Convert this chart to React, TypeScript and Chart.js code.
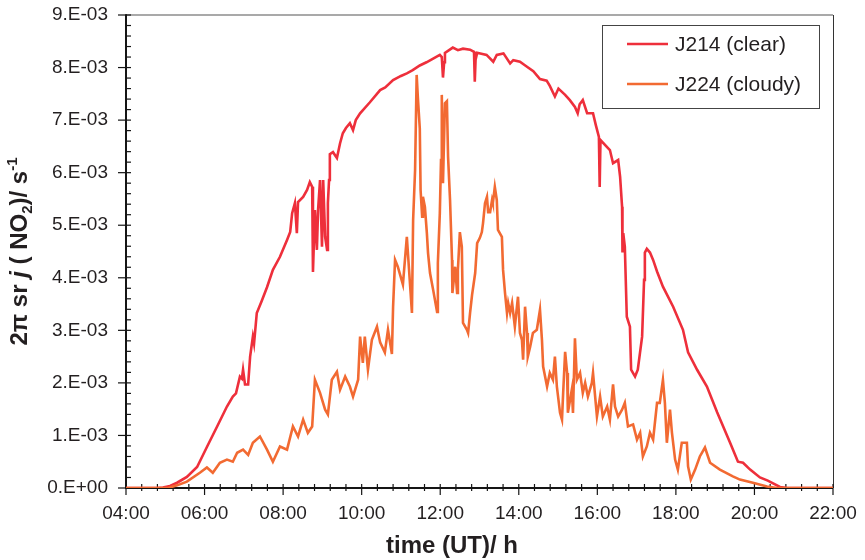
import React, { useEffect, useRef } from "react";
import { Chart, registerables } from "chart.js";

Chart.register(...registerables);

// time in hours UT
const clearTime = [
  4.0, 4.79, 4.94, 5.12, 5.3, 5.55, 5.81, 6.06, 6.32, 6.57, 6.72, 6.8, 6.9, 6.95, 6.98, 7.03, 7.11, 7.16, 7.23, 7.26,
  7.33, 7.45, 7.59, 7.74, 7.92, 8.1, 8.18, 8.23, 8.3, 8.35, 8.38, 8.51, 8.61, 8.68, 8.74, 8.76, 8.81, 8.86, 8.89, 8.94,
  8.99, 9.02, 9.07, 9.12, 9.14, 9.17, 9.19, 9.27, 9.37, 9.45, 9.52, 9.6, 9.7, 9.78, 9.85, 9.96, 10.21, 10.47, 10.6, 10.8,
  11.0, 11.15, 11.3, 11.48, 11.65, 11.82, 11.99, 12.04, 12.07, 12.1, 12.12, 12.32, 12.45, 12.58, 12.76, 12.86, 12.88, 12.9, 12.94, 13.18,
  13.35, 13.44, 13.61, 13.78, 13.86, 14.03, 14.2, 14.37, 14.54, 14.71, 14.79, 14.92, 15.01, 15.18, 15.3, 15.43, 15.5, 15.55, 15.63, 15.74,
  15.89, 15.96, 16.04, 16.06, 16.08, 16.32, 16.4, 16.53, 16.58, 16.63, 16.64, 16.66, 16.7, 16.75, 16.83, 16.86, 16.96, 17.03, 17.14, 17.19,
  17.21, 17.26, 17.34, 17.42, 17.52, 17.67, 17.93, 18.18, 18.31, 18.54, 18.79, 19.05, 19.38, 19.58, 19.71, 19.89, 20.14, 20.34, 20.65, 20.83,
  22.0,
];
// J214 (clear), units of 1E-03 s^-1
const clearJ = [
  0, 0, 0.01, 0.04, 0.1, 0.21, 0.4, 0.78, 1.17, 1.55, 1.74, 1.8, 2.12, 2.08, 2.25, 1.97, 1.97, 2.5, 2.88, 2.75,
  3.33, 3.55, 3.82, 4.15, 4.4, 4.72, 4.87, 5.23, 5.42, 4.85, 5.44, 5.54, 5.67, 5.82, 5.73, 4.11, 5.29, 4.53, 5.29, 5.86,
  4.59, 5.86, 4.78, 4.53, 5.42, 5.86, 6.35, 6.39, 6.28, 6.56, 6.75, 6.85, 6.94, 6.81, 7.0, 7.13, 7.34, 7.57, 7.62, 7.76,
  7.84, 7.89, 7.95, 8.04, 8.1, 8.17, 8.24, 8.2, 7.81, 8.1, 8.28, 8.38, 8.33, 8.36, 8.34, 8.3, 7.73, 8.15, 8.28, 8.24,
  8.11, 8.24, 8.27, 8.08, 8.14, 8.11, 8.02, 7.93, 7.78, 7.75, 7.65, 7.45, 7.6, 7.48, 7.38, 7.25, 7.13, 7.3, 7.38, 7.13,
  7.13, 6.91, 6.68, 5.73, 6.62, 6.43, 6.18, 6.24, 5.92, 5.35, 4.48, 4.85, 4.59, 3.26, 3.07, 2.25, 2.12, 2.25, 2.88, 3.96,
  4.48, 4.55, 4.48, 4.34, 4.12, 3.83, 3.45, 3.01, 2.58, 2.25, 1.93, 1.44, 0.86, 0.5, 0.48, 0.35, 0.2, 0.14, 0.02, 0,
  0,
];

const cloudyTime = [
  4.0, 5.07, 5.3, 5.55, 5.88, 6.06, 6.21, 6.39, 6.57, 6.72, 6.83, 6.98, 7.11, 7.23, 7.41, 7.59, 7.74, 7.92, 8.1, 8.25,
  8.38, 8.51, 8.63, 8.74, 8.81, 8.94, 9.07, 9.14, 9.24, 9.37, 9.45, 9.58, 9.7, 9.78, 9.91, 9.96, 10.03, 10.08, 10.16, 10.26,
  10.39, 10.47, 10.59, 10.67, 10.77, 10.8, 10.85, 10.92, 11.05, 11.15, 11.28, 11.31, 11.36, 11.4, 11.43, 11.48, 11.5, 11.54, 11.56, 11.61,
  11.66, 11.69, 11.74, 11.82, 11.92, 11.94, 11.99, 12.02, 12.04, 12.07, 12.12, 12.17, 12.2, 12.25, 12.3, 12.31, 12.38, 12.43, 12.45, 12.5,
  12.55, 12.58, 12.68, 12.71, 12.76, 12.81, 12.83, 12.89, 12.94, 13.01, 13.06, 13.09, 13.14, 13.19, 13.22, 13.27, 13.32, 13.34, 13.39, 13.44,
  13.47, 13.57, 13.6, 13.65, 13.7, 13.73, 13.78, 13.83, 13.9, 13.98, 14.03, 14.08, 14.11, 14.16, 14.21, 14.23, 14.29, 14.36, 14.46, 14.54,
  14.59, 14.62, 14.72, 14.79, 14.87, 14.92, 14.97, 15.05, 15.1, 15.13, 15.18, 15.23, 15.25, 15.35, 15.38, 15.43, 15.48, 15.56, 15.63, 15.69,
  15.76, 15.86, 15.89, 15.99, 16.07, 16.14, 16.25, 16.32, 16.4, 16.45, 16.53, 16.63, 16.7, 16.78, 16.91, 17.01, 17.09, 17.16, 17.26, 17.34,
  17.42, 17.52, 17.59, 17.67, 17.72, 17.77, 17.85, 17.9, 17.98, 18.05, 18.15, 18.28, 18.31, 18.38, 18.49, 18.61, 18.74, 18.87, 19.12, 19.45,
  19.63, 19.96, 20.32, 20.57, 22.0,
];
// J224 (cloudy), units of 1E-03 s^-1
const cloudyJ = [
  0, 0, 0.05, 0.12, 0.29, 0.39, 0.29, 0.48, 0.54, 0.5, 0.67, 0.73, 0.63, 0.86, 0.98, 0.73, 0.5, 0.79, 0.73, 1.17,
  0.98, 1.3, 1.05, 1.17, 2.06, 1.81, 1.49, 1.4, 2.06, 2.21, 1.87, 2.12, 1.93, 1.74, 2.06, 2.88, 2.38, 2.88, 2.25, 2.82,
  3.07, 2.77, 2.58, 3.01, 2.55, 3.45, 4.34, 4.21, 3.87, 4.78, 3.33, 5.1, 6.05, 7.86, 7.44, 6.84, 5.67, 5.16, 5.54, 5.35,
  4.85, 4.47, 4.09, 3.77, 3.35, 4.28, 5.23, 6.24, 7.48, 5.8, 7.32, 7.36, 6.3, 5.48, 4.34, 3.71, 4.21, 3.71, 4.15, 4.87,
  4.59, 3.14, 3.01, 2.95, 3.33, 3.67, 3.67, 4.09, 4.66, 4.76, 4.87, 5.04, 5.42, 5.54, 5.25, 5.25, 5.48, 5.42, 5.73, 5.48,
  4.91, 4.78, 4.15, 3.71, 3.33, 3.52, 3.33, 3.52, 3.07, 3.64, 2.95, 2.82, 2.44, 3.45, 2.95, 2.5, 2.69, 2.95, 3.01, 3.39,
  2.82, 2.31, 1.93, 2.19, 2.06, 2.5, 1.93, 1.43, 1.3, 1.81, 2.59, 2.19, 1.43, 1.87, 1.43, 2.85, 2.06, 2.19, 1.81, 2.0,
  1.74, 2.0, 2.19, 1.36, 1.74, 1.36, 1.55, 1.3, 1.97, 1.55, 1.36, 1.49, 1.62, 1.17, 1.21, 0.92, 1.05, 0.6, 0.79, 1.05,
  0.92, 1.62, 1.62, 2.06, 1.62, 0.86, 1.49, 1.05, 0.54, 0.35, 0.86, 0.86, 0.41, 0.16, 0.35, 0.6, 0.77, 0.48, 0.35, 0.22,
  0.16, 0.1, 0.03, 0, 0,
];

const seriesLabels = ["J214 (clear)", "J224 (cloudy)"];
const seriesColors = ["#ee2f3b", "#f26a32"];

const FONT = "'Liberation Sans', Arial, Helvetica, sans-serif";

function fmtHour(v: number) {
  const h = Math.round(v);
  return (h < 10 ? "0" : "") + h + ":00";
}
function fmtJ(v: number) {
  const r = Math.round(v);
  return r === 0 ? "0.E+00" : r + ".E-03";
}

const framePlugin = {
  id: "framePlugin",
  beforeDatasetsDraw(chart: any) {
    const { ctx, chartArea, scales } = chart;
    const { left, right, top, bottom } = chartArea;
    const x = scales.x;
    const y = scales.y;
    const line = (x1: number, y1: number, x2: number, y2: number) => {
      ctx.beginPath();
      ctx.moveTo(x1, y1);
      ctx.lineTo(x2, y2);
      ctx.stroke();
    };
    ctx.save();
    ctx.lineCap = "butt";
    ctx.strokeStyle = "#8c8c8c";
    ctx.lineWidth = 1.5;
    line(left, top, right, top);
    ctx.strokeStyle = "#333";
    ctx.lineWidth = 1;
    line(right + 0.5, top, right + 0.5, bottom);
    ctx.strokeStyle = "#151515";
    ctx.lineWidth = 2;
    line(left, top - 0.75, left, bottom + 1);
    line(left - 1, bottom, right, bottom);
    ctx.lineWidth = 1.2;
    for (let k = 0; k <= 45; k++) {
      const py = y.getPixelForValue(k * 0.2);
      const major = k % 5 === 0;
      line(major ? left - 8 : left, py, left + 5, py);
    }
    for (let k = 0; k <= 45; k++) {
      const px = x.getPixelForValue(4 + k * 0.4);
      const major = k % 5 === 0;
      line(px, bottom - 4, px, bottom + (major ? 7 : 3));
    }
    ctx.restore();
  },
  afterDraw(chart: any) {
    const { ctx, chartArea } = chart;
    const { top, bottom } = chartArea;
    ctx.save();
    // legend
    ctx.fillStyle = "#fff";
    ctx.fillRect(602, 25, 217, 83);
    ctx.strokeStyle = "#444";
    ctx.lineWidth = 1;
    ctx.strokeRect(602.5, 25.5, 217, 83);
    const rows = [44, 84];
    for (let i = 0; i < seriesLabels.length; i++) {
      ctx.strokeStyle = seriesColors[i];
      ctx.lineWidth = 2.6;
      ctx.beginPath();
      ctx.moveTo(627, rows[i]);
      ctx.lineTo(668, rows[i]);
      ctx.stroke();
      ctx.fillStyle = "#231f20";
      ctx.font = `21px ${FONT}`;
      ctx.textBaseline = "middle";
      ctx.textAlign = "left";
      ctx.fillText(seriesLabels[i], 675, rows[i] + 1);
    }
    // x title
    ctx.fillStyle = "#231f20";
    ctx.font = `bold 24px ${FONT}`;
    ctx.textAlign = "center";
    ctx.textBaseline = "alphabetic";
    ctx.fillText("time (UT)/ h", 452, 553);
    // y title (rich text)
    const big = `bold 24px ${FONT}`;
    const bigIt = `italic bold 24px ${FONT}`;
    const small = `bold 15px ${FONT}`;
    const parts: [string, string, number][] = [
      ["2\u03c0 sr ", big, 0],
      ["j", bigIt, 0],
      [" ( NO", big, 0],
      ["2", small, 5],
      [")/ s", big, 0],
      ["-1", small, -10],
    ];
    let total = 0;
    for (const p of parts) {
      ctx.font = p[1];
      total += ctx.measureText(p[0]).width;
    }
    ctx.translate(27, (top + bottom) / 2);
    ctx.rotate(-Math.PI / 2);
    ctx.textAlign = "left";
    let cx = -total / 2;
    for (const p of parts) {
      ctx.font = p[1];
      ctx.fillText(p[0], cx, p[2]);
      cx += ctx.measureText(p[0]).width;
    }
    ctx.restore();
  },
};

export default function App() {
  const ref = useRef<HTMLCanvasElement | null>(null);
  useEffect(() => {
    if (!ref.current) return;
    const chart = new Chart(ref.current, {
      type: "line",
      data: {
        datasets: [
          {
            label: seriesLabels[0],
            data: clearTime.map((t, i) => ({ x: t, y: clearJ[i] })),
            borderColor: seriesColors[0],
            borderWidth: 2.6,
            pointRadius: 0,
            tension: 0,
            order: 2,
          },
          {
            label: seriesLabels[1],
            data: cloudyTime.map((t, i) => ({ x: t, y: cloudyJ[i] })),
            borderColor: seriesColors[1],
            borderWidth: 2.6,
            pointRadius: 0,
            tension: 0,
            order: 1,
          },
        ],
      },
      options: {
        animation: false,
        responsive: false,
        devicePixelRatio: 1,
        layout: { padding: { left: 0, right: 32, top: 15, bottom: 0 } },
        plugins: { legend: { display: false }, tooltip: { enabled: false } },
        scales: {
          x: {
            type: "linear",
            min: 4,
            max: 22,
            grid: { display: false, drawTicks: false },
            border: { display: false },
            ticks: {
              stepSize: 2,
              autoSkip: false,
              maxRotation: 0,
              padding: 14,
              color: "#231f20",
              font: { family: FONT, size: 19 },
              callback: (v: any) => fmtHour(Number(v)),
            },
            afterFit: (s: any) => {
              s.height = 72;
              s.paddingLeft = 0;
              s.paddingRight = 0;
            },
          },
          y: {
            type: "linear",
            min: 0,
            max: 9,
            grid: { display: false, drawTicks: false },
            border: { display: false },
            ticks: {
              stepSize: 1,
              padding: 18,
              color: "#231f20",
              font: { family: FONT, size: 19 },
              callback: (v: any) => fmtJ(Number(v)),
            },
            afterFit: (s: any) => {
              s.width = 126;
              s.paddingTop = 0;
              s.paddingBottom = 0;
            },
          },
        },
      },
      plugins: [framePlugin],
    });
    return () => chart.destroy();
  }, []);
  return (
    <div style={{ position: "fixed", left: 0, top: 0, width: 865, height: 560, background: "#fff" }}>
      <canvas ref={ref} width={865} height={560} />
    </div>
  );
}
